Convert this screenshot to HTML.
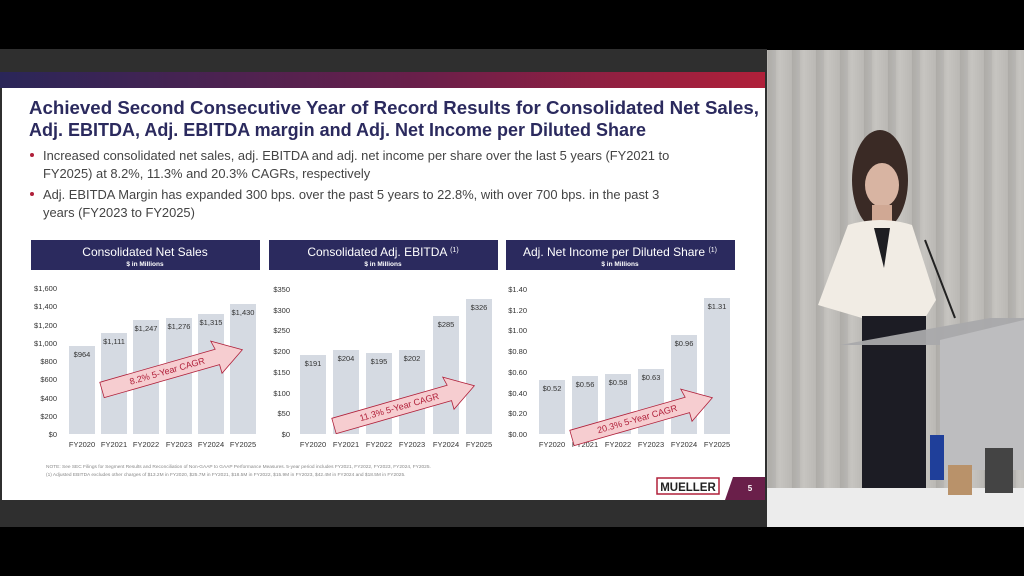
<!DOCTYPE html>
<html><head><meta charset="utf-8"><style>
html,body{margin:0;padding:0;background:#000;width:1024px;height:576px;overflow:hidden}
svg{display:block}
text{font-family:"Liberation Sans",sans-serif}
</style></head><body>
<svg width="1024" height="576" viewBox="0 0 1024 576" xmlns="http://www.w3.org/2000/svg">
<defs>
<linearGradient id="bar" x1="0" x2="1"><stop offset="0" stop-color="#2a2658"/><stop offset="0.55" stop-color="#6a1f4a"/><stop offset="1" stop-color="#b0203a"/></linearGradient>
<linearGradient id="cur" x1="0" x2="1"><stop offset="0" stop-color="#b3b1ad"/><stop offset="0.5" stop-color="#c6c4c0"/><stop offset="1" stop-color="#bab8b4"/></linearGradient>
<pattern id="folds" width="24" height="10" patternUnits="userSpaceOnUse"><rect width="24" height="10" fill="url(#cur)"/><rect x="0" width="8" height="10" fill="#000" opacity="0.035"/></pattern>
</defs>
<rect width="1024" height="576" fill="#000"/>
<rect x="0" y="49" width="767" height="478" fill="#2f2f2f"/>
<rect x="0" y="72" width="765" height="16" fill="url(#bar)"/>
<rect x="2" y="88" width="763" height="412" fill="#fff"/>
<!-- title -->
<text x="29" y="114" font-size="18.6" font-weight="bold" fill="#2b2a5e" textLength="730" lengthAdjust="spacingAndGlyphs">Achieved Second Consecutive Year of Record Results for Consolidated Net Sales,</text>
<text x="29" y="136" font-size="18.6" font-weight="bold" fill="#2b2a5e" textLength="617" lengthAdjust="spacingAndGlyphs">Adj. EBITDA, Adj. EBITDA margin and Adj. Net Income per Diluted Share</text>
<g font-size="12.9" fill="#444">
<circle cx="32" cy="155" r="2" fill="#b0203a"/>
<text x="43" y="160">Increased consolidated net sales, adj. EBITDA and adj. net income per share over the last 5 years (FY2021 to</text>
<text x="43" y="178">FY2025) at 8.2%, 11.3% and 20.3% CAGRs, respectively</text>
<circle cx="32" cy="194" r="2" fill="#b0203a"/>
<text x="43" y="199">Adj. EBITDA Margin has expanded 300 bps. over the past 5 years to 22.8%, with over 700 bps. in the past 3</text>
<text x="43" y="217">years (FY2023 to FY2025)</text>
</g>
<!-- headers -->
<g fill="#2b2a5e">
<rect x="31" y="240" width="229" height="30"/><rect x="269" y="240" width="229" height="30"/><rect x="506" y="240" width="229" height="30"/>
</g>
<g fill="#fff" text-anchor="middle">
<text x="145" y="256" font-size="12">Consolidated Net Sales</text><text x="145" y="266" font-size="6.5" font-weight="bold">$ in Millions</text>
<text x="383" y="256" font-size="12">Consolidated Adj. EBITDA <tspan font-size="7" dy="-4">(1)</tspan></text><text x="383" y="266" font-size="6.5" font-weight="bold">$ in Millions</text>
<text x="620" y="256" font-size="12">Adj. Net Income per Diluted Share <tspan font-size="7" dy="-4">(1)</tspan></text><text x="620" y="266" font-size="6.5" font-weight="bold">$ in Millions</text>
</g>
<!-- axes labels -->
<g font-size="7.5" fill="#333" text-anchor="end">
<text x="57" y="437">$0</text><text x="57" y="419">$200</text><text x="57" y="401">$400</text><text x="57" y="382">$600</text><text x="57" y="364">$800</text><text x="57" y="346">$1,000</text><text x="57" y="328">$1,200</text><text x="57" y="309">$1,400</text><text x="57" y="291">$1,600</text>
<text x="290" y="437">$0</text><text x="290" y="416">$50</text><text x="290" y="396">$100</text><text x="290" y="375">$150</text><text x="290" y="354">$200</text><text x="290" y="333">$250</text><text x="290" y="313">$300</text><text x="290" y="292">$350</text>
<text x="527" y="437">$0.00</text><text x="527" y="416">$0.20</text><text x="527" y="396">$0.40</text><text x="527" y="375">$0.60</text><text x="527" y="354">$0.80</text><text x="527" y="333">$1.00</text><text x="527" y="313">$1.20</text><text x="527" y="292">$1.40</text>
</g>
<!-- bars -->
<g fill="#d5dae2">
<rect x="69" y="346" width="26" height="88"/><rect x="101" y="333" width="26" height="101"/><rect x="133" y="320" width="26" height="114"/><rect x="166" y="318" width="26" height="116"/><rect x="198" y="314" width="26" height="120"/><rect x="230" y="304" width="26" height="130"/>
<rect x="300" y="355" width="26" height="79"/><rect x="333" y="350" width="26" height="84"/><rect x="366" y="353" width="26" height="81"/><rect x="399" y="350" width="26" height="84"/><rect x="433" y="316" width="26" height="118"/><rect x="466" y="299" width="26" height="135"/>
<rect x="539" y="380" width="26" height="54"/><rect x="572" y="376" width="26" height="58"/><rect x="605" y="374" width="26" height="60"/><rect x="638" y="369" width="26" height="65"/><rect x="671" y="335" width="26" height="99"/><rect x="704" y="298" width="26" height="136"/>
</g>
<g font-size="7.5" fill="#333" text-anchor="middle">
<text x="82" y="357">$964</text><text x="114" y="344">$1,111</text><text x="146" y="331">$1,247</text><text x="179" y="329">$1,276</text><text x="211" y="325">$1,315</text><text x="243" y="315">$1,430</text>
<text x="313" y="366">$191</text><text x="346" y="361">$204</text><text x="379" y="364">$195</text><text x="412" y="361">$202</text><text x="446" y="327">$285</text><text x="479" y="310">$326</text>
<text x="552" y="391">$0.52</text><text x="585" y="387">$0.56</text><text x="618" y="385">$0.58</text><text x="651" y="380">$0.63</text><text x="684" y="346">$0.96</text><text x="717" y="309">$1.31</text>
</g>
<g font-size="7.5" fill="#333" text-anchor="middle">
<text x="82" y="447">FY2020</text><text x="114" y="447">FY2021</text><text x="146" y="447">FY2022</text><text x="179" y="447">FY2023</text><text x="211" y="447">FY2024</text><text x="243" y="447">FY2025</text>
<text x="313" y="447">FY2020</text><text x="346" y="447">FY2021</text><text x="379" y="447">FY2022</text><text x="412" y="447">FY2023</text><text x="446" y="447">FY2024</text><text x="479" y="447">FY2025</text>
<text x="552" y="447">FY2020</text><text x="585" y="447">FY2021</text><text x="618" y="447">FY2022</text><text x="651" y="447">FY2023</text><text x="684" y="447">FY2024</text><text x="717" y="447">FY2025</text>
</g>
<!-- arrows -->
<g fill="#f6cdd0" stroke="#b0203a" stroke-width="0.8">
<g transform="translate(102,390) rotate(-16)"><polygon points="0,-8 120,-8 118,-17 146,0 120,17 120,8 0,8"/></g>
<g transform="translate(334,426) rotate(-16)"><polygon points="0,-8 120,-8 118,-17 146,0 120,17 120,8 0,8"/></g>
<g transform="translate(572,438) rotate(-16)"><polygon points="0,-8 120,-8 118,-17 146,0 120,17 120,8 0,8"/></g>
</g>
<g font-size="9" fill="#b0203a" text-anchor="middle">
<text transform="translate(168,374) rotate(-16)">8.2% 5-Year CAGR</text>
<text transform="translate(400,410) rotate(-16)">11.3% 5-Year CAGR</text>
<text transform="translate(638,422) rotate(-16)">20.3% 5-Year CAGR</text>
</g>
<g font-size="4.8" fill="#888">
<text x="46" y="468">NOTE: See SEC Filings for Segment Results and Reconciliation of Non-GAAP to GAAP Performance Measures. 5-year period includes FY2021, FY2022, FY2023, FY2024, FY2025.</text>
<text x="46" y="476">(1) Adjusted EBITDA excludes other charges of $13.2M in FY2020, $25.7M in FY2021, $18.5M in FY2022, $15.9M in FY2023, $42.4M in FY2024 and $18.5M in FY2025.</text>
</g>
<rect x="657" y="478" width="62" height="16" fill="#fff" stroke="#b0203a" stroke-width="1.5"/>
<text x="688" y="491" font-size="11.5" font-weight="bold" fill="#222" text-anchor="middle">MUELLER</text>
<polygon points="733,477 765,477 765,500 725,500" fill="#6a1f4a"/>
<text x="750" y="491" font-size="8" font-weight="bold" fill="#fff" text-anchor="middle">5</text>
<!-- video -->
<rect x="767" y="50" width="257" height="477" fill="url(#folds)"/>
<rect x="767" y="488" width="257" height="39" fill="#ececec"/>
<!-- person -->
<ellipse cx="880" cy="180" rx="28" ry="50" fill="#3a2a25"/>
<ellipse cx="882" cy="185" rx="17" ry="22" fill="#d8b4a2"/>
<rect x="872" y="205" width="20" height="20" fill="#d0a894"/>
<path d="M848,225 Q880,215 912,225 L936,300 L925,318 L862,318 L818,305 Z" fill="#f1ece4"/>
<path d="M874,228 L890,228 L884,268 Z" fill="#1e1e22"/>
<rect x="862" y="316" width="64" height="172" fill="#1c1c24"/>
<!-- podium -->
<polygon points="840,345 990,318 1024,318 1024,470 940,470 940,345" fill="#a9a9ab" opacity="0.95"/>
<polygon points="940,340 1024,320 1024,470 940,470" fill="#bdbdbf"/>
<line x1="925" y1="240" x2="955" y2="318" stroke="#222" stroke-width="2"/>
<rect x="930" y="435" width="14" height="45" fill="#1f3f9a"/>
<rect x="948" y="465" width="24" height="30" fill="#b9926a"/>
<rect x="985" y="448" width="28" height="45" fill="#444"/>
</svg>
</body></html>
